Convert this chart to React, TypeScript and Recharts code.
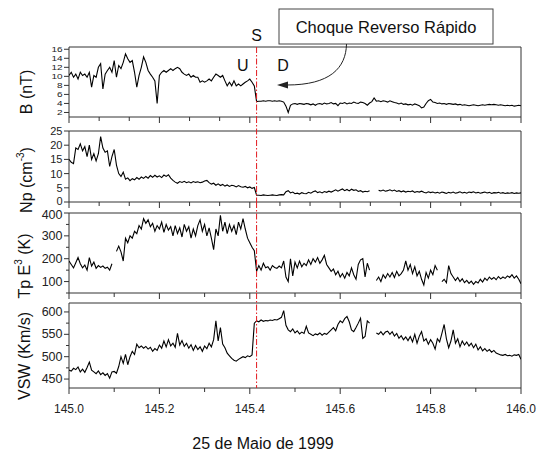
import React from 'react';
import { LineChart, Line, XAxis, YAxis, ReferenceLine, ReferenceArea } from 'recharts';

// day of year 145 (25 May 1999), one sample every 0.005 day
const T_START = 145;
const T_STEP = 0.005;

const bField = [
  10.2, 10.9, 9.8, 10.5, 9.4, 10.9, 10.2, 10.5, 9.8, 10.9,
  7.6, 10.2, 9.8, 12.0, 12.8, 7.2, 10.5, 11.3, 12.0, 10.9,
  13.5, 9.8, 12.4, 11.7, 13.1, 15.0, 13.9, 13.1, 13.5, 10.9,
  7.6, 10.2, 12.0, 14.3, 13.1, 11.3, 10.5, 9.8, 9.0, 4.0,
  10.2, 10.9, 11.3, 10.9, 11.3, 11.7, 11.3, 11.7, 12.0, 11.7,
  10.9, 10.5, 10.2, 10.5, 9.8, 10.2, 9.8, 9.8, 8.7, 9.0,
  8.7, 9.0, 9.4, 9.0, 9.8, 10.5, 10.2, 9.8, 10.2, 9.0,
  7.9, 8.7, 7.9, 9.0, 7.9, 8.3, 7.9, 8.3, 8.7, 9.0,
  9.4, 8.7, 7.9, 4.4, 4.5, 4.5, 4.6, 4.5, 4.6, 4.6,
  4.5, 4.6, 4.5, 4.6, 4.5, 4.3, 3.4, 2.0, 3.6, 3.9,
  4.0, 3.8, 4.0, 3.9, 3.8, 4.0, 3.9, 3.7, 3.9, 3.6,
  3.9, 4.0, 3.8, 4.1, 3.9, 4.0, 4.2, 3.9, 4.0, 3.5,
  4.1, 4.0, 4.2, 3.9, 4.1, 4.0, 4.3, 4.1, 4.0, 4.3,
  4.2, 4.0, 3.6, 4.1, 4.4, 5.2, 4.5, 4.6, 4.4, 4.6,
  4.5, 4.3, 4.6, 4.4, 4.2, 4.1, 3.9, 4.1, 3.8, 3.9,
  3.7, 3.8, 3.6, 3.9, 3.7, 3.5, 3.0, 3.2, 4.0, 4.6,
  4.9, 4.3, 4.2, 4.0, 4.1, 3.9, 4.0, 3.8, 4.0, 3.9,
  3.8, 3.9, 3.7, 3.8, 3.6, 3.7, 3.6, 3.5, 3.6, 3.7,
  3.6, 3.5, 3.6, 3.7, 3.6, 3.7, 3.8, 3.7, 3.8, 3.7,
  3.6, 3.7, 3.6, 3.5, 3.6, 3.5, 3.6, 3.4, 3.5, 3.6,
  3.5,
];

const npDensity = [
  15.0, 14.0, 13.5, 19.0, 18.5, 20.5, 18.0, 19.5, 16.0, 20.0,
  15.0, 17.0, 14.5, 17.0, 23.0, 19.0, 17.5, 18.0, 12.5, 16.0,
  18.5, 13.0, 10.0, 9.0, 10.5, 8.0, 8.5, 7.5, 8.2, 7.8,
  8.6, 8.0, 8.8, 8.3, 9.0, 8.4, 9.3, 8.7, 9.4, 8.8,
  9.2, 8.6, 9.5, 9.0, 9.6, 8.4, 7.6, 7.0, 6.6, 7.2,
  6.9, 7.3, 6.8, 7.1, 6.7, 7.2, 6.9, 7.1, 6.8, 7.0,
  7.4, 7.6, 6.8, 6.3, 6.6, 5.9, 6.4, 5.8, 6.2, 5.6,
  6.0, 5.5, 5.9, 5.7, 5.3, 5.8, 5.4, 5.2, 5.5, 5.0,
  5.3, 4.8, 5.1, 2.4, 2.4, 2.3, 2.5, 2.4, 2.3, 2.4,
  2.5, 2.4, 2.3, 2.5, 2.6, 2.5, 3.6, 4.0, 3.2, 3.5,
  2.9, 3.1, 2.8, 3.3, 3.0, 2.9, 3.4, 3.1, 3.6, 3.9,
  3.3, 3.6, 3.2, 3.7, 3.4, 3.8, 3.5, 3.9, 4.3, 3.8,
  4.2, 4.6, 4.0, 4.4, 3.9, 4.5, 4.1, 4.3, 3.7, 4.0,
  3.5, 3.8, 3.6, 4.0, null, null, null, 4.1, 3.9, 4.2,
  3.8, 4.0, 4.3, 3.9, 4.2, 3.7, 4.0, 3.6, 3.9, 3.5,
  3.8, 3.6, 3.9, 3.4, 3.7, 3.5, 3.8, 3.4, 3.2, 3.6,
  3.3, 3.5, 3.2, 3.4, 3.1, 3.5, 3.3, 3.0, 3.4, 3.2,
  3.5, 3.1, 3.3, 3.6, 3.2, 3.4, 3.1, 3.5, 3.3, 3.6,
  3.2, 3.4, 3.1, 3.3, 3.5, 3.2, 3.4, 3.0, 3.3, 3.2,
  3.4, 3.1, 3.3, 3.0, 3.2, 3.1, 3.3, 3.0, 3.2, 3.1,
  3.2,
];

const tpTemp = [
  190, 175, 160, 182, 205, 178, 160, 172, 150, 205,
  168, 185, 158, 170, 162, 168, 158, 163, 150, 178,
  null, 232, 255, 230, 190, 290, 270, 300, 290, 320,
  310, 345, 330, 375, 355, 370, 340, 355, 320, 345,
  330, 360, 315, 350, 325, 340, 300, 345, 310, 335,
  295, 350, 320, 340, 290, 330, 300, 345, 370, 320,
  350, 300, 335, 290, 240, 330, 300, 390, 320, 360,
  310, 350, 320, 345, 305, 360, 330, 375, 330, 290,
  270, 250, 235, 145, 170, 150, 180, 160, 165, 150,
  170, 162, 158, 168, 160, 190, 120, 100, 200, 125,
  185, 160, 190, 165, 180, 170, 195, 175, 200, 185,
  205, 180, 195, 215, 175, 160, 145, 155, 130, 145,
  120, 135, 115, 140, 125, 160, 130, 110, 175, 195,
  200, 120, 180, 150, null, null, 105, 120, 100, 130,
  115, 135, 120, 140, 118, 145, 125, 135, 150, 190,
  150, 175, 135, 165, 125, 145, 110, 85, 140, 115,
  150, 130, 170, 150, null, 100, 110, 95, 170, 135,
  120, 105, 118, 100, 112, 95, 105, 92, 102, 88,
  100, 94, 110, 98, 115, 105, 120, 110, 118, 108,
  122, 112, 120, 114, 125, 118, 130, 115, 125, 110,
  90,
];

const vswSpeed = [
  470, 468, 474, 471, 477, 466, 472, 465, 476, 488,
  470, 466, 462, 468, 460, 464, 458, 462, 452, 466,
  467, 463, 478, 500, 485, 505, 482, 500, 512, 505,
  528, 520, 524, 519, 523, 517, 521, 512, 518, 514,
  526, 519, 535, 522, 538, 524, 530, 521, 552, 526,
  536, 523, 530, 519, 527, 514, 525, 516, 522, 512,
  524, 518, 530, 522, 538, 580, 535, 565, 528, 520,
  508, 502, 496, 492, 490, 494, 497, 500, 498, 502,
  500, 504, 575, 580, 578, 582, 579, 581, 580, 582,
  581, 583, 582, 585, 588, 603, 570, 560, 556, 562,
  553, 558, 551, 555, 552, 568, 553, 550, 547, 551,
  549, 553, 548, 552, 550, 555, 560, 565, 558, 572,
  580, 576, 585, 590, 578, 560, 556, 565, 575, 586,
  541, 545, 580, 575, null, null, 553, 550, 556, 549,
  555, 557, 550, 556, 546, 552, 541, 547, 538, 544,
  536, 545, 533, 550, 530, 546, 556, 535, 540, 528,
  538, 530, 517, 540, 533, 552, 572, 540, 520, 535,
  560, 530, 540, 522, 535, 526, 533, 524, 530, 520,
  528, 515, 522, 513, 518, 512, 516, 510, 514, 508,
  506, 504, 503, 505, 502, 503, 501, 504, 503, 505,
  494,
];

// x ticks: upper panels every 1/15 day, lower panels every 0.1 day
const xTicksFine = [145, 145.0667, 145.1333, 145.2, 145.2667, 145.3333, 145.4, 145.4667,
  145.5333, 145.6, 145.6667, 145.7333, 145.8, 145.8667, 145.9333, 146];
const xTicksTenth = [145, 145.1, 145.2, 145.3, 145.4, 145.5, 145.6, 145.7, 145.8, 145.9, 146];

const bTicks = [2, 4, 6, 8, 10, 12, 14, 16];
const npTicks = [0, 5, 10, 15, 20, 25];
const tpTicks = [50, 100, 150, 200, 250, 300, 350, 400];
const tpLabels = [100, 200, 300, 400];
const vswTicks = [450, 475, 500, 525, 550, 575, 600];
const vswLabels = [450, 500, 550, 600];

const shockDay = 145.415;

const rows = bField.map((b, i) => ({
  t: +(T_START + i * T_STEP).toFixed(3),
  b,
  np: npDensity[i],
  tp: tpTemp[i],
  vsw: vswSpeed[i],
}));

const W = 542;
const PLOT_LEFT = 69;
const PLOT_RIGHT = 521;

function XTick(props: any) {
  const { x, y, payload, showLabel } = props;
  const v = payload.value;
  const major = Math.abs(v * 5 - Math.round(v * 5)) < 1e-3;
  return (
    <g>
      <line x1={x} y1={y} x2={x} y2={y + (major ? 6 : 4)} stroke="#333" />
      {showLabel && major && (
        <text x={x} y={y + 21} textAnchor="middle" dominantBaseline="central" fontSize={12} fill="#222">
          {v.toFixed(1)}
        </text>
      )}
    </g>
  );
}

function YTick(props: any) {
  const { x, y, payload, labels, fontSize, squash, nudge } = props;
  const v = payload.value;
  const labelled = labels.includes(v);
  const dy = (nudge && nudge[v]) || 0;
  return (
    <g>
      <line x1={x - (labelled ? 5 : 3)} y1={y} x2={x} y2={y} stroke="#333" />
      {labelled && (
        <text transform={`translate(${x - 6.5},${y + dy}) scale(1,${squash || 1})`} textAnchor="end"
          dominantBaseline="central" fontSize={fontSize} fill="#222">
          {v}
        </text>
      )}
    </g>
  );
}

function ShockLine(props: any) {
  const top = Math.min(props.y1, props.y2) - props.extend;
  const bottom = Math.max(props.y1, props.y2);
  return (
    <line x1={props.x1} y1={top} x2={props.x2} y2={bottom}
      stroke="#e3191f" strokeWidth={1} strokeDasharray="6 2 1.5 2" />
  );
}

function Panel(props: any) {
  const { top, marginTop, plotH, axisH, dataKey, domain, yTicks, yLabels, yFont, squash, nudge,
    xTicks, showX, extend } = props;
  return (
    <div style={{ position: 'absolute', left: 0, top }}>
      <LineChart width={W} height={marginTop + plotH + axisH} data={rows}
        margin={{ top: marginTop, right: W - PLOT_RIGHT, bottom: 0, left: 0 }}>
        <XAxis dataKey="t" type="number" domain={[145, 146]} allowDataOverflow ticks={xTicks}
          interval={0} height={axisH} axisLine={false} tickLine={false} tickSize={0} tickMargin={0}
          tick={(p: any) => <XTick {...p} showLabel={showX} />} />
        <YAxis type="number" domain={domain} allowDataOverflow ticks={yTicks} interval={0}
          width={PLOT_LEFT} axisLine={false} tickLine={false} tickSize={0} tickMargin={0}
          tick={(p: any) => <YTick {...p} labels={yLabels} fontSize={yFont} squash={squash} nudge={nudge} />} />
        <ReferenceArea x1={145} x2={146} y1={domain[0]} y2={domain[1]} fill="none" stroke="#333" strokeWidth={1} />
        <Line dataKey={dataKey} type="linear" stroke="#000" strokeWidth={1.1} dot={false}
          isAnimationActive={false} connectNulls={false} />
        <ReferenceLine x={shockDay} shape={(p: any) => <ShockLine {...p} extend={extend} />} />
      </LineChart>
    </div>
  );
}

export default function App() {
  return (
    <div style={{ position: 'absolute', left: 0, top: 0, width: W, height: 450, background: '#fff',
      fontFamily: '"Liberation Sans", Arial, sans-serif', color: '#111' }}>
      <Panel top={0} marginTop={47} plotH={70} axisH={8} extend={0} dataKey="b" domain={[1, 16.5]}
        yTicks={bTicks} yLabels={bTicks} yFont={10} squash={0.78} xTicks={xTicksFine} showX={false} />
      <Panel top={117} marginTop={14} plotH={71} axisH={8} extend={14} dataKey="np" domain={[0, 25]}
        yTicks={npTicks} yLabels={npTicks} yFont={11} nudge={{ 0: -1.5 }} xTicks={xTicksFine} showX={false} />
      <Panel top={202} marginTop={11} plotH={80} axisH={8} extend={11} dataKey="tp" domain={[50, 400]}
        yTicks={tpTicks} yLabels={tpLabels} yFont={12.5} nudge={{ 400: 2 }} xTicks={xTicksTenth} showX={false} />
      <Panel top={293} marginTop={10} plotH={85} axisH={34} extend={10} dataKey="vsw" domain={[430, 620]}
        yTicks={vswTicks} yLabels={vswLabels} yFont={12.5} xTicks={xTicksTenth} showX={true} />

      <svg width={W} height={450} style={{ position: 'absolute', left: 0, top: 0, pointerEvents: 'none' }}>
        <g fill="#111" fontSize={16}>
          <text x={256.5} y={35} textAnchor="middle" dominantBaseline="central">S</text>
          <text x={242.7} y={65} textAnchor="middle" dominantBaseline="central">U</text>
          <text x={283} y={65} textAnchor="middle" dominantBaseline="central">D</text>
        </g>
        <rect x={279} y={9} width={214} height={35} fill="#fff" stroke="#444" />
        <text x={386} y={26.5} textAnchor="middle" dominantBaseline="central" fontSize={16.5} fill="#111">
          Choque Reverso Rápido
        </text>
        <path d="M346.5 44 C346 68 330 85 287 85" fill="none" stroke="#222" strokeWidth={1} />
        <polygon points="277,85 288,81.5 288,88.5" fill="#222" />

        <g fontSize={16} fill="#111" textAnchor="middle" dominantBaseline="central">
          <text transform="translate(26,92) rotate(-90)">B (nT)</text>
          <text transform="translate(26,180) rotate(-90)">
            Np (cm<tspan dy={-6} fontSize={10}>-3</tspan><tspan dy={6}>)</tspan>
          </text>
          <text transform="translate(24,266) rotate(-90)">
            Tp E<tspan dy={-6} fontSize={10}>3</tspan><tspan dy={6}> (K)</tspan>
          </text>
          <text transform="translate(24,356) rotate(-90)">VSW  (Km/s)</text>
        </g>
        <text x={263} y={443} textAnchor="middle" dominantBaseline="central" fontSize={16} fill="#111">
          25 de Maio de 1999
        </text>
      </svg>
    </div>
  );
}
